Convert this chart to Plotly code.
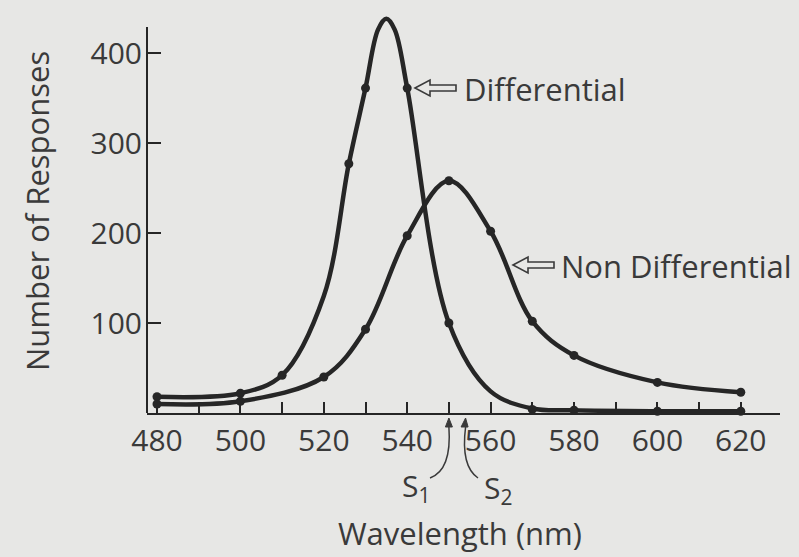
import plotly.graph_objects as go

# ---------------- data ----------------
wl_label_ticks = [480, 500, 520, 540, 560, 580, 600, 620]
wl_label_text = ['480', '500', '520', '540', '560', '580', '600', '620']
wl_minor_ticks = [490, 510, 530, 550, 570, 590, 610]
resp_ticks = [100, 200, 300, 400]

# Differential curve (line) and its plotted points
diff_curve_wl = [480, 500, 510, 520, 526, 530, 533, 535, 537, 540, 550, 560, 570, 580, 600, 620]
diff_curve_n = [18, 22, 42, 130, 277, 361, 426, 438, 426, 361, 100, 24, 5, 3, 2, 2]
diff_pts_wl = [480, 500, 510, 526, 530, 540, 550, 570, 580, 600, 620]
diff_pts_n = [18, 22, 42, 277, 361, 361, 100, 4, 3, 2, 2]

# Non Differential curve
nondiff_wl = [480, 500, 520, 530, 540, 550, 560, 570, 580, 600, 620]
nondiff_n = [10, 13, 40, 93, 197, 258, 202, 102, 64, 34, 23]

s1_wl, s2_wl = 550, 554

# ---------------- layout geometry ----------------
W, H = 799, 557
ML, MR, MT, MB = 147, 19, 8, 144
PW, PH = W - ML - MR, H - MT - MB
X_RANGE = [477.6, 629.4]
Y_RANGE = [0, 450]
Y_AXIS_TOP = 429

INK = '#262626'
TXT = '#3a3a3a'
BG = '#e7e7e5'
FONT = 'Open Sans'


def px(xp):
    return (xp - ML) / PW


def py(yp):
    return (H - MB - yp) / PH


def wl_to_px(w):
    return ML + (w - X_RANGE[0]) / (X_RANGE[1] - X_RANGE[0]) * PW


def poly(pts, closed=True, fill=None, width=1.6):
    d = 'M ' + ' L '.join(f'{px(a):.5f},{py(b):.5f}' for a, b in pts) + (' Z' if closed else '')
    return dict(type='path', xref='paper', yref='paper', path=d,
                line=dict(color=TXT, width=width), fillcolor=fill or 'rgba(0,0,0,0)')


def hollow_arrow(tip_x, cy, head_len=15, head_h=16, shaft_len=26, shaft_h=6):
    pts = [
        (tip_x, cy),
        (tip_x + head_len, cy - head_h / 2),
        (tip_x + head_len, cy - shaft_h / 2),
        (tip_x + head_len + shaft_len, cy - shaft_h / 2),
        (tip_x + head_len + shaft_len, cy + shaft_h / 2),
        (tip_x + head_len, cy + shaft_h / 2),
        (tip_x + head_len, cy + head_h / 2),
    ]
    return poly(pts)


def curve(p0, c, p1):
    d = (f'M {px(p0[0]):.5f},{py(p0[1]):.5f} Q {px(c[0]):.5f},{py(c[1]):.5f} '
         f'{px(p1[0]):.5f},{py(p1[1]):.5f}')
    return dict(type='path', xref='paper', yref='paper', path=d,
                line=dict(color=TXT, width=1.5))


def head_up(tx, ty, lean=0.0):
    return poly([(tx, ty), (tx - 3.5 + lean, ty + 9), (tx + 3.5 + lean, ty + 9)],
                fill=TXT, width=1)


s1_px = wl_to_px(s1_wl)
s2_px = wl_to_px(s2_wl)

fig = go.Figure()
fig.add_trace(go.Scatter(x=diff_curve_wl, y=diff_curve_n, mode='lines',
                         line=dict(color=INK, width=4.5, shape='spline', smoothing=1.0),
                         hoverinfo='skip', showlegend=False))
fig.add_trace(go.Scatter(x=nondiff_wl, y=nondiff_n, mode='lines',
                         line=dict(color=INK, width=4.5, shape='spline', smoothing=1.0),
                         hoverinfo='skip', showlegend=False))
fig.add_trace(go.Scatter(x=diff_pts_wl, y=diff_pts_n, mode='markers', name='Differential',
                         marker=dict(color=INK, size=9), showlegend=False, cliponaxis=False))
fig.add_trace(go.Scatter(x=nondiff_wl, y=nondiff_n, mode='markers', name='Non Differential',
                         marker=dict(color=INK, size=9), showlegend=False, cliponaxis=False))

shapes = [
    dict(type='line', xref='paper', x0=0, x1=0, yref='y', y0=0, y1=Y_AXIS_TOP,
         line=dict(color=INK, width=2)),
    hollow_arrow(415, 88),
    hollow_arrow(513, 265),
    curve((430, 478), (s1_px + 3, 470), (s1_px, 427)),
    curve((478, 478), (s2_px - 5, 466), (s2_px, 427)),
    head_up(s1_px, 418),
    head_up(s2_px, 418, lean=-1),
]

annotations = [
    dict(xref='paper', yref='paper', x=px(462), y=py(89), xanchor='left', yanchor='middle',
         text='Differential', showarrow=False, font=dict(family=FONT, size=31, color=TXT)),
    dict(xref='paper', yref='paper', x=px(559), y=py(266), xanchor='left', yanchor='middle',
         text='Non Differential', showarrow=False, font=dict(family=FONT, size=31, color=TXT)),
    dict(xref='paper', yref='paper', x=px(400), y=py(487), xanchor='left', yanchor='middle',
         text='S<sub>1</sub>', showarrow=False, font=dict(family=FONT, size=30, color=TXT)),
    dict(xref='paper', yref='paper', x=px(482), y=py(489), xanchor='left', yanchor='middle',
         text='S<sub>2</sub>', showarrow=False, font=dict(family=FONT, size=30, color=TXT)),
    dict(xref='paper', yref='paper', x=px(460), y=py(533), xanchor='center', yanchor='middle',
         text='Wavelength (nm)', showarrow=False, font=dict(family=FONT, size=31, color=TXT)),
    dict(xref='paper', yref='paper', x=px(37), y=py(211), xanchor='center', yanchor='middle',
         text='Number of Responses', textangle=-90, showarrow=False,
         font=dict(family=FONT, size=31, color=TXT)),
]

fig.update_layout(
    width=W, height=H,
    margin=dict(l=ML, r=MR, t=MT, b=MB),
    paper_bgcolor=BG, plot_bgcolor=BG,
    shapes=shapes, annotations=annotations,
    xaxis=dict(range=X_RANGE, tickmode='array', tickvals=wl_label_ticks, ticktext=wl_label_text,
               ticks='inside', ticklen=11, tickwidth=2, tickcolor=INK,
               minor=dict(tickmode='array', tickvals=wl_minor_ticks, ticks='inside',
                          ticklen=11, tickwidth=2, tickcolor=INK, showgrid=False),
               showline=True, linecolor=INK, linewidth=2, showgrid=False, zeroline=False,
               tickfont=dict(family=FONT, size=30, color=TXT), fixedrange=True),
    yaxis=dict(range=Y_RANGE, tickmode='array', tickvals=resp_ticks,
               ticks='inside', ticklen=14, tickwidth=2, tickcolor=INK,
               showline=False, showgrid=False, zeroline=False, ticklabelstandoff=4,
               tickfont=dict(family=FONT, size=30, color=TXT), fixedrange=True),
)

fig.write_html('out.html')
